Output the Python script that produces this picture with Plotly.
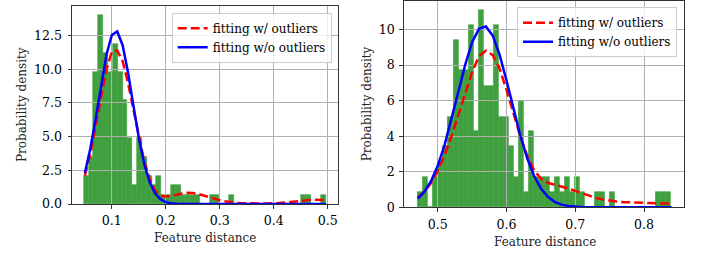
import numpy as np
import plotly.graph_objects as go

# ---------------- data: left panel ----------------
left_bin_start = 0.0481
left_bin_width = 0.00896
left_density = [2.1, 3.5, 9.8, 14.0, 11.2, 9.8, 11.9, 9.8, 7.7, 4.9,
                1.4, 4.9, 3.5, 2.1, 1.4, 2.1, 0.7, 0.7, 1.4, 1.4,
                0.7, 0.7, 0.7, 0.7, 0.0, 0.0, 0.7, 0.7, 0.0, 0.0,
                0.7, 0.0, 0.0, 0.0, 0.0, 0.0, 0.0, 0.0, 0.0, 0.0,
                0.0, 0.0, 0.0, 0.0, 0.0, 0.7, 0.7, 0.0, 0.0, 0.7]
left_fit_x = [0.05, 0.06, 0.07, 0.08, 0.09, 0.10, 0.11, 0.12, 0.13, 0.14,
              0.15, 0.16, 0.17, 0.18, 0.19, 0.20, 0.21, 0.22, 0.23, 0.24,
              0.25, 0.26, 0.27, 0.28, 0.29, 0.30, 0.31, 0.32, 0.33, 0.34,
              0.35, 0.36, 0.37, 0.38, 0.39, 0.40, 0.41, 0.42, 0.43, 0.44,
              0.45, 0.46, 0.47, 0.48, 0.49, 0.497]
left_fit_with = [2.1, 3.7, 5.8, 8.0, 10.0, 11.3, 11.4, 10.6, 9.0, 7.0,
                 5.0, 3.2, 1.9, 1.0, 0.62, 0.55, 0.6, 0.7, 0.78, 0.83,
                 0.82, 0.75, 0.63, 0.5, 0.38, 0.28, 0.2, 0.13, 0.08, 0.05,
                 0.04, 0.03, 0.03, 0.03, 0.04, 0.05, 0.07, 0.1, 0.14, 0.19,
                 0.24, 0.28, 0.31, 0.32, 0.31, 0.3]
left_fit_without = [2.3, 4.08, 6.31, 8.81, 11.08, 12.55, 12.81, 11.79, 9.77, 7.30,
                    4.92, 2.98, 1.63, 0.80, 0.36, 0.14, 0.05, 0.02, 0.01, 0.0,
                    0.0, 0.0, 0.0, 0.0, 0.0, 0.0, 0.0, 0.0, 0.0, 0.0,
                    0.0, 0.0, 0.0, 0.0, 0.0, 0.0, 0.0, 0.0, 0.0, 0.0,
                    0.0, 0.0, 0.0, 0.0, 0.0, 0.0]
left_xticks = [0.1, 0.2, 0.3, 0.4, 0.5]
left_xticklabels = ["0.1", "0.2", "0.3", "0.4", "0.5"]
left_yticks = [0, 2.5, 5, 7.5, 10, 12.5]
left_yticklabels = ["0.0", "2.5", "5.0", "7.5", "10.0", "12.5"]

# ---------------- data: right panel ----------------
right_bin_start = 0.471
right_bin_width = 0.007354
right_density = [0.85, 1.7, 0.0, 1.7, 2.56, 3.42, 5.1, 9.4, 7.7, 7.7,
                 10.26, 4.27, 11.1, 6.84, 6.84, 10.26, 5.1, 5.1, 3.42, 1.7,
                 5.98, 0.85, 4.27, 1.7, 1.7, 1.7, 0.85, 1.7, 0.85, 1.7,
                 0.85, 1.7, 0.85, 0.0, 0.0, 0.85, 0.85, 0.0, 0.85, 0.0,
                 0.0, 0.0, 0.0, 0.0, 0.0, 0.0, 0.0, 0.85, 0.85, 0.85]
right_fit_x = [0.471, 0.48, 0.49, 0.50, 0.51, 0.52, 0.53, 0.54, 0.55, 0.56,
               0.57, 0.58, 0.59, 0.60, 0.61, 0.62, 0.63, 0.64, 0.65, 0.66,
               0.67, 0.68, 0.69, 0.70, 0.71, 0.72, 0.73, 0.74, 0.75, 0.76,
               0.77, 0.78, 0.79, 0.80, 0.81, 0.82, 0.83, 0.84]
right_fit_with = [0.55, 0.85, 1.35, 2.05, 2.95, 4.0, 5.2, 6.4, 7.6, 8.5,
                  8.8, 8.55, 7.8, 6.6, 5.3, 4.0, 2.9, 2.1, 1.6, 1.38,
                  1.27, 1.18, 1.05, 0.92, 0.78, 0.65, 0.53, 0.44, 0.37, 0.32,
                  0.29, 0.27, 0.26, 0.25, 0.24, 0.23, 0.22, 0.21]
right_fit_without = [0.49, 0.85, 1.45, 2.33, 3.51, 4.93, 6.50, 8.02, 9.28, 10.04,
                     10.17, 9.65, 8.57, 7.13, 5.55, 4.05, 2.77, 1.77, 1.06, 0.60,
                     0.31, 0.15, 0.07, 0.03, 0.01, 0.005, 0.0, 0.0, 0.0, 0.0,
                     0.0, 0.0, 0.0, 0.0, 0.0, 0.0, 0.0, 0.0]
right_xticks = [0.5, 0.6, 0.7, 0.8]
right_xticklabels = ["0.5", "0.6", "0.7", "0.8"]
right_yticks = [0, 2, 4, 6, 8, 10]
right_yticklabels = ["0", "2", "4", "6", "8", "10"]

legend_names = ["fitting w/ outliers", "fitting w/o outliers"]
x_title = "Feature distance"
y_title = "Probability density"

# ---------------- figure ----------------
W, H = 704, 255
FONT = "DejaVu Serif"
GREEN = "#40a040"

def centers(start, width, n):
    return start + width * (np.arange(n) + 0.5)

fig = go.Figure()

# bars (bottom subplots, no grid)
bar_marker = dict(color=GREEN, line=dict(width=0.6, color=GREEN))
fig.add_trace(go.Bar(x=centers(left_bin_start, left_bin_width, len(left_density)),
                     y=left_density, width=left_bin_width, marker=bar_marker,
                     showlegend=False, xaxis="x", yaxis="y", hoverinfo="skip"))
fig.add_trace(go.Bar(x=centers(right_bin_start, right_bin_width, len(right_density)),
                     y=right_density, width=right_bin_width, marker=bar_marker,
                     showlegend=False, xaxis="x2", yaxis="y2", hoverinfo="skip"))

# curves (top subplots with grid)
red_line = dict(color="#ff0000", width=2.5, dash="9px,4px")
blue_line = dict(color="#0000ff", width=2.5)
fig.add_trace(go.Scatter(x=left_fit_x, y=left_fit_with, mode="lines", line=red_line,
                         name=legend_names[0], xaxis="x3", yaxis="y3", legend="legend"))
fig.add_trace(go.Scatter(x=left_fit_x, y=left_fit_without, mode="lines", line=blue_line,
                         name=legend_names[1], xaxis="x3", yaxis="y3", legend="legend"))
fig.add_trace(go.Scatter(x=right_fit_x, y=right_fit_with, mode="lines", line=red_line,
                         name=legend_names[0], xaxis="x4", yaxis="y4", legend="legend2"))
fig.add_trace(go.Scatter(x=right_fit_x, y=right_fit_without, mode="lines", line=blue_line,
                         name=legend_names[1], xaxis="x4", yaxis="y4", legend="legend2"))

# domains (paper fractions)
L_dom_x = [72 / W, 338 / W]
L_dom_y = [(H - 204) / H, (H - 6) / H]
R_dom_x = [403.7 / W, 684.3 / W]
R_dom_y = [(H - 207.3) / H, (H - 1) / H]
L_xr = [0.0262, 0.519]
L_yr = [0, 14.7]
R_xr = [0.4505, 0.8585]
R_yr = [0, 11.6]

hidden = dict(showgrid=False, zeroline=False, showline=False, showticklabels=False,
              ticks="", automargin=False)

tickfont = dict(family=FONT, size=12.6, color="black")
common = dict(showgrid=True, gridcolor="#b0b0b0", gridwidth=1, zeroline=False,
              showline=True, mirror=True, linecolor="#333333", linewidth=1,
              ticks="outside", ticklen=3.5, tickwidth=1, tickcolor="#333333",
              tickfont=tickfont, tickmode="array", automargin=False)

fig.update_layout(
    width=W, height=H, autosize=False,
    margin=dict(l=0, r=0, t=0, b=0, pad=0),
    paper_bgcolor="white", plot_bgcolor="rgba(0,0,0,0)",
    barmode="overlay", bargap=0, hovermode=False,
    font=dict(family=FONT, color="black"),
    xaxis=dict(domain=L_dom_x, range=L_xr, anchor="y", **hidden),
    yaxis=dict(domain=L_dom_y, range=L_yr, anchor="x", **hidden),
    xaxis2=dict(domain=R_dom_x, range=R_xr, anchor="y2", **hidden),
    yaxis2=dict(domain=R_dom_y, range=R_yr, anchor="x2", **hidden),
    xaxis3=dict(domain=L_dom_x, range=L_xr, anchor="y3", ticklabelstandoff=1,
                tickvals=left_xticks, ticktext=left_xticklabels, **common),
    yaxis3=dict(domain=L_dom_y, range=L_yr, anchor="x3", ticklabelstandoff=3,
                tickvals=left_yticks, ticktext=left_yticklabels, **common),
    xaxis4=dict(domain=R_dom_x, range=R_xr, anchor="y4", ticklabelstandoff=2,
                tickvals=right_xticks, ticktext=right_xticklabels, **common),
    yaxis4=dict(domain=R_dom_y, range=R_yr, anchor="x4", ticklabelstandoff=2,
                tickvals=right_yticks, ticktext=right_yticklabels, **common),
    legend=dict(x=331.7 / W, y=(H - 12.7) / H, xanchor="right", yanchor="top",
                bgcolor="rgba(255,255,255,0.8)", bordercolor="#cccccc", borderwidth=1,
                font=dict(family=FONT, size=12, color="black"), tracegroupgap=0),
    legend2=dict(x=677 / W, y=(H - 7.3) / H, xanchor="right", yanchor="top",
                 bgcolor="rgba(255,255,255,0.8)", bordercolor="#cccccc", borderwidth=1,
                 font=dict(family=FONT, size=12, color="black"), tracegroupgap=0),
)

title_font = dict(family=FONT, size=12, color="#222222")
fig.add_annotation(text=y_title, x=22 / W, y=(H - 105) / H, xref="paper", yref="paper",
                   textangle=-90, showarrow=False, font=title_font, xanchor="center", yanchor="middle")
fig.add_annotation(text=y_title, x=367 / W, y=(H - 104.2) / H, xref="paper", yref="paper",
                   textangle=-90, showarrow=False, font=title_font, xanchor="center", yanchor="middle")
fig.add_annotation(text=x_title, x=205 / W, y=(H - 238) / H, xref="paper", yref="paper",
                   showarrow=False, font=title_font, xanchor="center", yanchor="middle")
fig.add_annotation(text=x_title, x=545.3 / W, y=(H - 242) / H, xref="paper", yref="paper",
                   showarrow=False, font=title_font, xanchor="center", yanchor="middle")

fig.write_html("out.html", config={"displayModeBar": False},
               post_script="document.body.style.margin='0';document.body.style.padding='0';")
